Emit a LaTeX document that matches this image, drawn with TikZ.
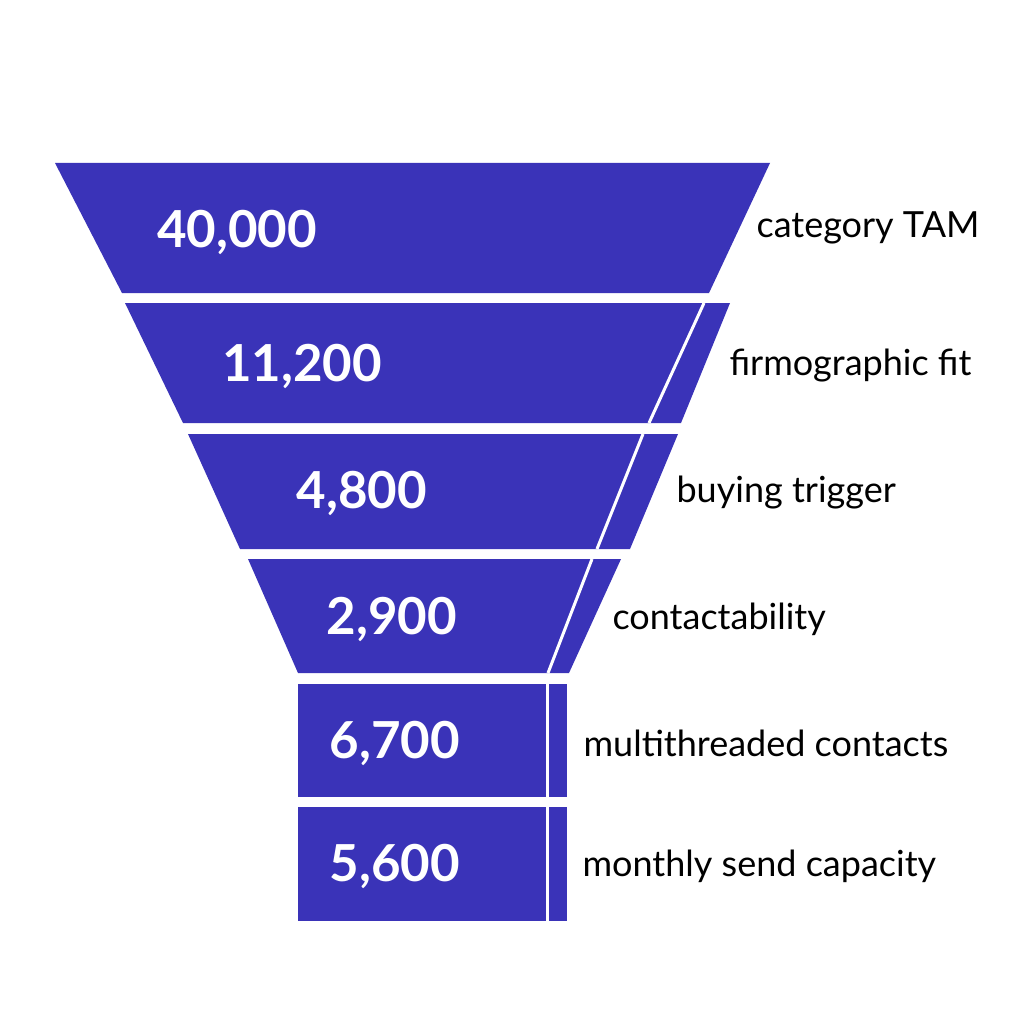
\documentclass[tikz,border=0pt]{standalone}
\usepackage{fontspec}
\setmainfont{Lato}
\definecolor{fun}{HTML}{3A33B8}
\begin{document}
\begin{tikzpicture}[x=1pt,y=-1pt,
  seg/.style={fill=fun,draw=none},
  cut/.style={draw=white,line width=3pt},
  num/.style={text=white,font=\fontsize{51}{54}\selectfont\bfseries,anchor=center},
  lab/.style={text=black,font=\fontsize{36}{40}\selectfont,anchor=west}]
\useasboundingbox (0,0) rectangle (1024,1024);
\fill[white] (0,0) rectangle (1024,1024);
\fill[seg] (55,163) -- (770,163) -- (709,293) -- (122,293) -- cycle;
\fill[seg] (125,303) -- (730,303) -- (681,423) -- (183,423) -- cycle;
\draw[cut] (704,303) -- (649,423);
\fill[seg] (188,434) -- (678,434) -- (630,549) -- (240,549) -- cycle;
\draw[cut] (643,434) -- (597,549);
\fill[seg] (248,559) -- (621,559) -- (569,673) -- (298,673) -- cycle;
\draw[cut] (592,559) -- (548,673);
\fill[seg] (298,684) rectangle (567,797);
\draw[cut] (547,684) -- (547,797);
\fill[seg] (298,807) rectangle (567,921);
\draw[cut] (547,807) -- (547,921);
\node[num] (n1) at (237,232) {40,000};
\node[num] (n2) at (302,366) {11,200};
\node[num] (n3) at (362,493) {4,800};
\node[num] (n4) at (392,619) {2,900};
\node[num] (n5) at (395,743) {6,700};
\node[num] (n6) at (395,866) {5,600};
\node[lab] (l1) at (753,228) {category TAM};
\node[lab] (l2) at (726,366) {firmographic fit};
\node[lab] (l3) at (673,493) {buying trigger};
\node[lab] (l4) at (609,619) {contactability};
\node[lab] (l5) at (580,743) {multithreaded contacts};
\node[lab] (l6) at (579,866) {monthly send capacity};
\end{tikzpicture}
\end{document}
